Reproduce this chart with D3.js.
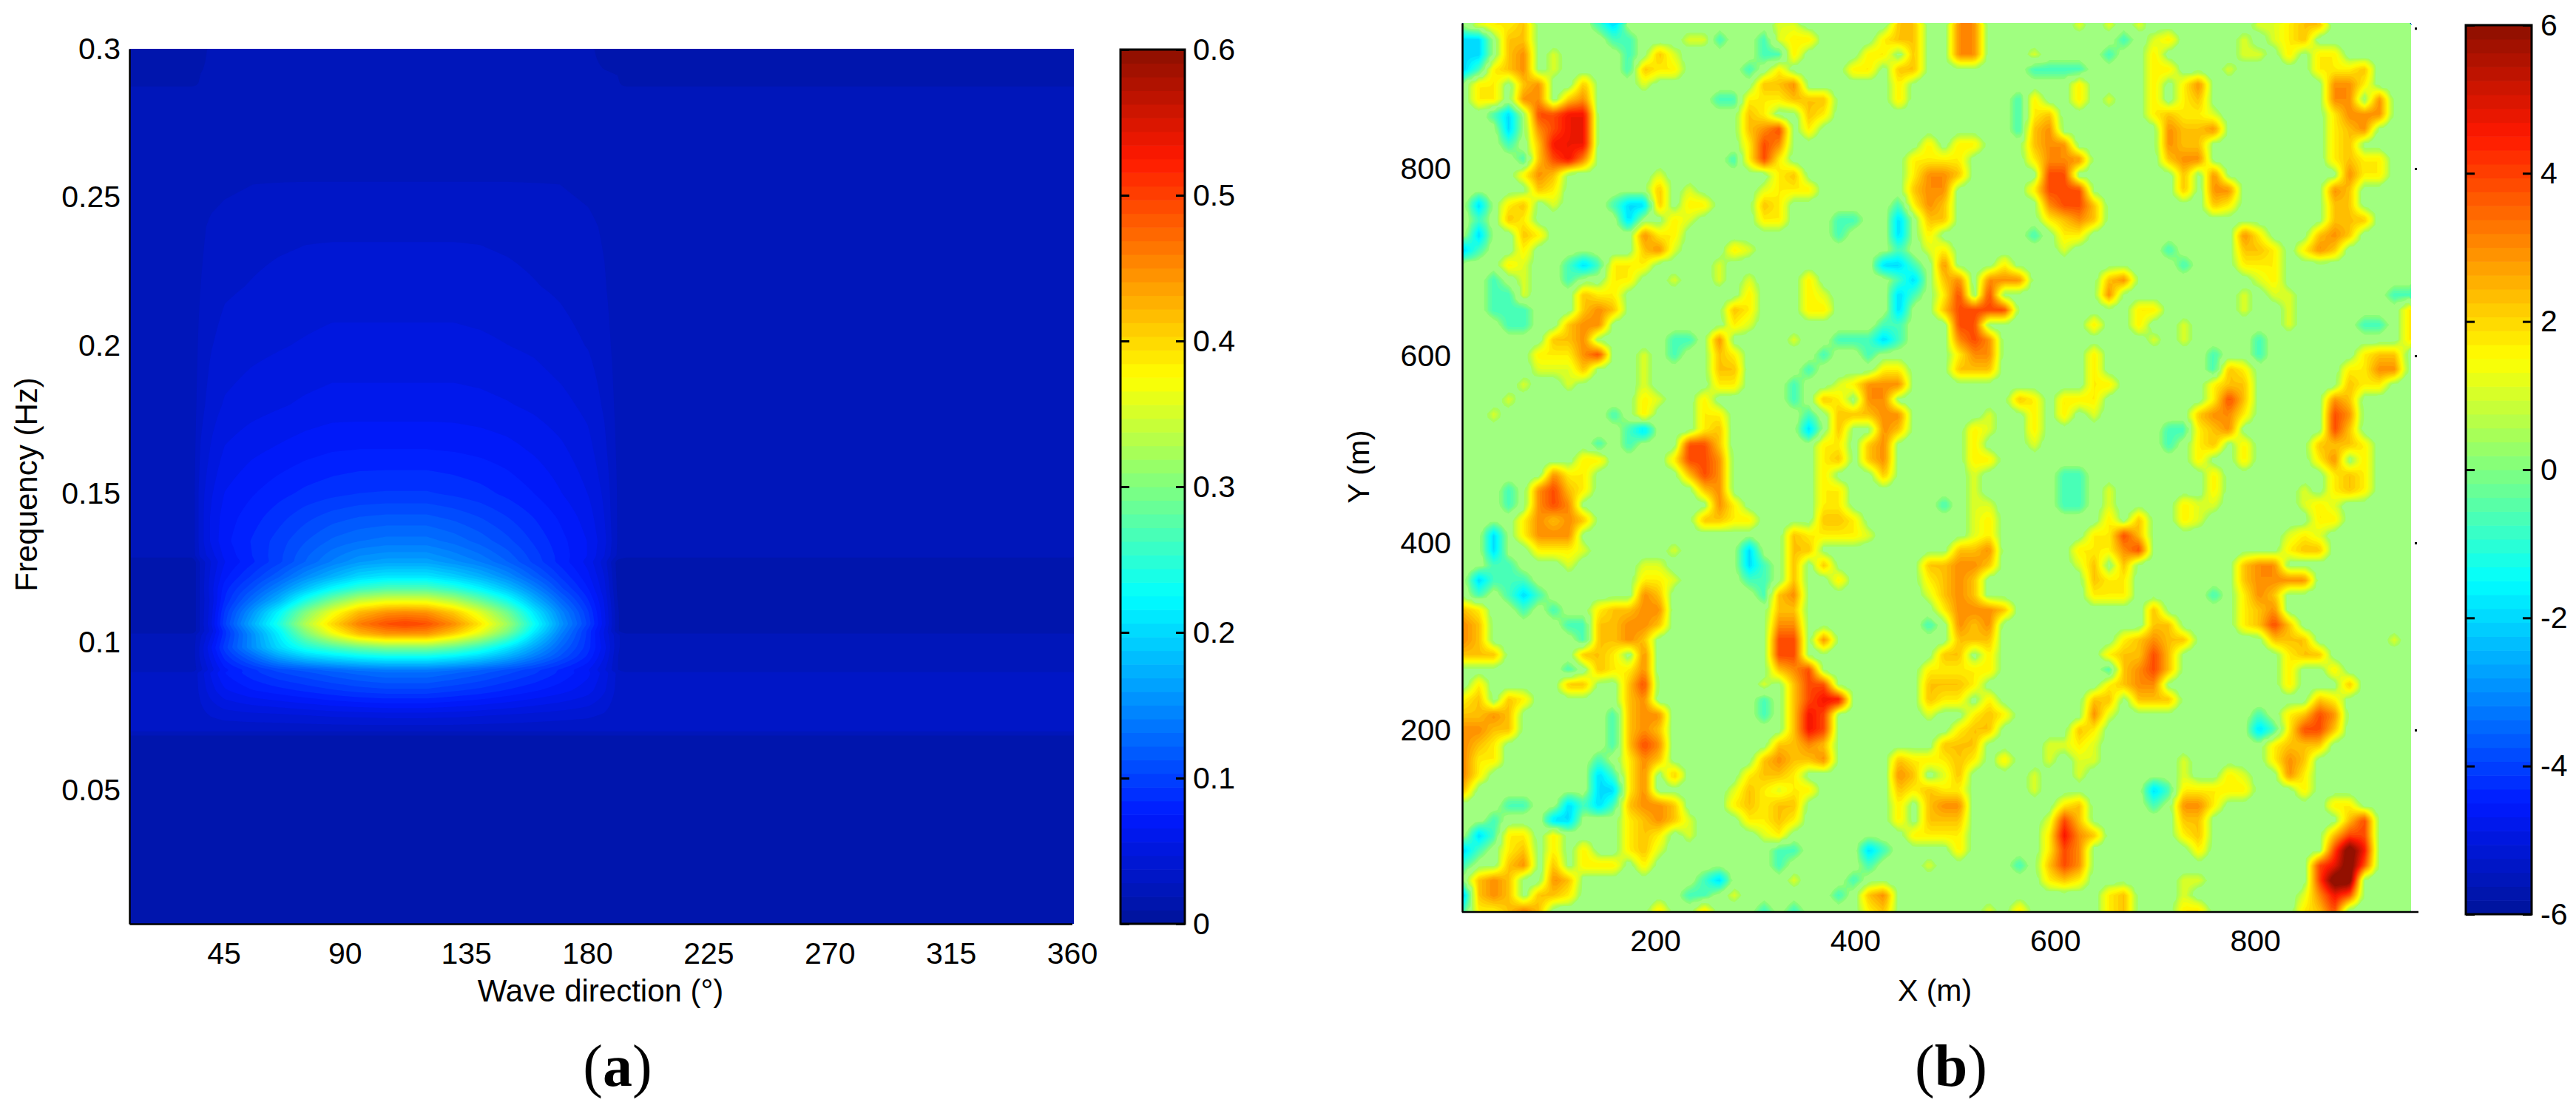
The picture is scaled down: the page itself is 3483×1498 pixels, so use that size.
<!DOCTYPE html>
<html>
<head>
<meta charset="utf-8">
<script src="https://cdn.jsdelivr.net/npm/d3@7"></script>
<style>
  body { margin: 0; background: #fff; }
  text { font-family: "Liberation Sans", Arial, sans-serif; fill: #000; }
</style>
</head>
<body>
<svg id="chart" width="3483" height="1498"></svg>
<script>
// panel (a): spectrum, rows follow freqs, columns follow dirs
const dirs = [10, 33, 36, 40, 45, 55, 65, 75, 85, 95, 105, 112, 120, 130, 140, 150, 160, 170, 180, 186, 191, 194, 360];
const freqs = [.005, .067, .07, .075, .0835, .0895, .0905, .095, .098, .1025, .1035, .106, .11, .114, .118, .122, .127, .129, .134, .142, .15, .165, .18, .2, .22, .24, .2545, .256, .287, .289, .3];
const spectrum = [
  [.01,.01,.01,.01,.01,.01,.01,.01,.01,.01,.01,.01,.01,.01,.01,.01,.01,.01,.01,.01,.01,.01,.01],
  [.01,.01,.01,.01,.01,.01,.01,.01,.01,.01,.01,.01,.01,.01,.01,.01,.01,.01,.01,.01,.01,.01,.01],
  [.03,.03,.03,.03,.03,.03,.03,.03,.03,.03,.03,.03,.03,.03,.03,.03,.03,.03,.03,.03,.03,.03,.03],
  [.03,.03,.034,.038,.041,.043,.044,.046,.048,.049,.05,.05,.05,.049,.047,.045,.043,.041,.039,.036,.031,.03,.03],
  [.03,.03,.04,.052,.064,.074,.08,.086,.092,.097,.1,.1,.1,.095,.09,.083,.076,.069,.06,.048,.034,.03,.03],
  [.03,.03,.042,.058,.075,.09,.102,.11,.118,.125,.13,.13,.13,.123,.115,.105,.095,.082,.068,.052,.035,.03,.03],
  [.022,.022,.034,.052,.072,.09,.107,.116,.126,.134,.14,.14,.14,.132,.122,.11,.097,.082,.066,.048,.028,.022,.022],
  [.022,.022,.04,.06,.088,.125,.165,.193,.209,.222,.23,.23,.23,.218,.199,.172,.14,.11,.082,.056,.028,.022,.022],
  [.022,.022,.04,.065,.098,.15,.2,.239,.264,.286,.3,.3,.3,.281,.25,.21,.165,.122,.088,.06,.03,.022,.022],
  [.022,.022,.035,.055,.09,.15,.215,.295,.36,.415,.44,.44,.44,.4,.35,.285,.205,.14,.09,.055,.03,.022,.022],
  [.01,.01,.03,.05,.09,.155,.22,.305,.375,.43,.455,.46,.455,.42,.365,.3,.215,.145,.09,.055,.02,.01,.01],
  [.01,.01,.03,.055,.1,.17,.24,.33,.4,.46,.49,.5,.49,.45,.39,.32,.23,.155,.1,.06,.02,.01,.01],
  [.01,.01,.03,.052,.095,.155,.22,.3,.365,.42,.445,.45,.445,.41,.355,.29,.21,.145,.095,.058,.02,.01,.01],
  [.01,.01,.03,.05,.085,.13,.175,.24,.295,.34,.358,.36,.358,.33,.285,.235,.175,.125,.085,.055,.018,.01,.01],
  [.01,.01,.03,.052,.08,.11,.145,.185,.225,.255,.27,.27,.27,.25,.22,.185,.145,.105,.075,.05,.016,.01,.01],
  [.01,.01,.03,.05,.072,.095,.12,.15,.175,.2,.21,.21,.21,.195,.175,.15,.12,.092,.068,.047,.015,.01,.01],
  [.01,.01,.03,.047,.065,.082,.1,.122,.142,.158,.165,.165,.165,.153,.14,.122,.1,.08,.062,.042,.014,.01,.01],
  [.022,.022,.04,.052,.068,.084,.1,.12,.137,.15,.155,.155,.155,.145,.133,.117,.098,.08,.065,.047,.026,.022,.022],
  [.022,.022,.042,.058,.072,.085,.098,.112,.124,.131,.135,.135,.135,.128,.118,.106,.092,.078,.065,.05,.027,.022,.022],
  [.022,.022,.042,.058,.07,.08,.09,.1,.108,.113,.115,.115,.115,.11,.103,.094,.084,.073,.061,.047,.027,.022,.022],
  [.022,.022,.042,.055,.066,.074,.081,.087,.091,.094,.095,.095,.095,.092,.088,.082,.075,.066,.056,.045,.027,.022,.022],
  [.022,.022,.038,.048,.057,.063,.067,.071,.074,.075,.075,.075,.075,.074,.072,.069,.064,.058,.05,.04,.026,.022,.022],
  [.022,.022,.034,.042,.048,.052,.055,.058,.06,.06,.06,.06,.06,.06,.059,.057,.054,.05,.044,.036,.025,.022,.022],
  [.022,.022,.031,.037,.041,.044,.046,.048,.05,.05,.05,.05,.05,.05,.049,.047,.045,.041,.037,.032,.024,.022,.022],
  [.022,.022,.028,.033,.036,.038,.04,.041,.042,.042,.042,.042,.042,.042,.041,.04,.038,.036,.033,.029,.023,.022,.022],
  [.022,.022,.026,.03,.032,.034,.035,.036,.036,.036,.036,.036,.036,.036,.036,.035,.034,.032,.03,.027,.023,.022,.022],
  [.022,.022,.022,.024,.026,.028,.03,.032,.032,.032,.032,.032,.032,.032,.032,.032,.03,.028,.026,.024,.022,.022,.022],
  [.022,.022,.022,.023,.024,.024,.025,.025,.025,.025,.025,.025,.025,.025,.025,.025,.024,.024,.023,.023,.022,.022,.022],
  [.022,.022,.022,.023,.024,.024,.024,.024,.024,.024,.024,.024,.024,.024,.024,.024,.024,.024,.023,.023,.022,.022,.022],
  [.01,.01,.021,.023,.023,.023,.023,.023,.023,.023,.023,.023,.023,.023,.023,.023,.023,.023,.023,.023,.021,.01,.01],
  [.01,.01,.012,.023,.023,.023,.023,.023,.023,.023,.023,.023,.023,.023,.023,.023,.023,.023,.023,.012,.01,.01,.01]
];
const dirTicks = [45, 90, 135, 180, 225, 270, 315, 360];
const freqTicks = [.05, .1, .15, .2, .25, .3];
const specBarTicks = [0, .1, .2, .3, .4, .5, .6];

// panel (b): elevation read cell by cell, one string per grid row from the top,
// "col:levels" runs, everything not listed is the flat background
const levelValues = {a: -.7, b: -2, 1: 1.1, 2: 1.7, 3: 2.3, 4: 3, 5: 3.9, 6: 4.7, 7: 6.6};
const flatLevel = .3;
const flatColor = "#a0ff80";
const seaCols = 64;
const seaRowsCount = 60;
const seaRows = [
  "1:1223 9:ab 21:11 29:33 33:44 41:1 43:1 45:1 53:11 55:233",
  "0:bb 3:33 10:aa 15:11 17:a 20:a 21:122 28:2 29:33 33:44 44:a 46:12 52:1 54:123",
  "0:bb 3:34 6:1 11:a 13:3 14:1 20:aa 22:2 27:2 28:2 30:3 33:44 38:1 43:a 46:2 52:1 53:1 55:2 57:22",
  "0:ba 2:2 3:34 6:1 11:a 12:32 14:2 19:a 21:2 26:22 29:33 38:aa 40:aa 46:22 51:1 57:2 58:23 59:22 60:3",
  "1:22 4:34 8:3 12:1 20:33 22:4 29:2 41:2 46:2 48:24 58:44 60:2",
  "1:22 4:44 7:34 17:aa 19:2 20:22 22:3 23:3 24:3 29:2 37:a 38:2 41:2 43:1 46:2 48:23 58:44 59:4 61:4",
  "2:a 3:b 5:5566 19:33 20:2 23:33 24:2 37:a 38:23 46:2 47:3 48:2 49:2 50:1 58:2 59:4 60:44",
  "3:b 5:4566 19:3 20:45 23:2 37:a 38:34 39:4 47:43 49:34 58:2 59:3 60:4",
  "3:a 5:3666 19:2 20:56 21:4 31:2 33:22 38:34 39:4 40:4 47:44 48:3 49:3 58:2 59:3",
  "4:a 5:3564 18:a 19:2 20:54 21:2 30:2 31:22 33:2 38:2 39:4 40:44 47:3 48:4 49:4 58:2 59:3 60:2 61:2",
  "4:2 5:44 6:3 13:1 21:2 22:3 30:2 31:44 32:4 33:3 39:55 40:5 48:3 50:4 59:44 60:2 61:2",
  "5:3 6:2 13:3 15:1 20:1 21:2 22:2 23:2 30:3 31:44 32:4 38:2 39:5 40:55 48:3 50:44 58:4 59:3",
  "1:b 3:23 6:1 10:a 11:bb 13:3 15:2 16:2 20:3 21:2 29:a 30:2 31:44 32:3 39:4 40:5 41:55 42:3 50:33 51:2 58:3 59:3",
  "1:a 3:33 4:2 11:b 14:2 15:1 20:2 21:2 25:aa 29:b 31:33 39:2 40:3 41:4 42:3 58:3 59:33",
  "1:b 4:3 5:2 12:4 13:2 14:2 25:a 29:b 31:2 38:a 40:2 41:2 52:4 53:2 57:3 58:4 59:3",
  "0:b 1:a 4:2 12:3 13:44 14:1 18:2 19:1 29:a 31:1 32:2 40:1 47:a 52:3 53:3 54:2 56:2 57:4 58:3",
  "3:2 4:1 7:aa 8:b 9:a 10:2 11:22 17:1 28:bb 29:b 30:a 32:4 36:2 48:a 52:2 53:22 54:2",
  "2:a 4:1 7:a 10:2 11:2 14:1 17:1 19:1 23:2 29:a 30:b 32:3 33:4 35:4 36:44 43:34 53:1 54:2",
  "2:aaa 4:1 8:3 9:2 10:2 19:2 23:2 24:1 29:b 30:a 32:2 33:5 35:5 43:4 52:1 54:1 55:1 62:aa",
  "2:aaa 8:3 9:4 10:3 18:34 19:2 23:22 29:b 32:3 33:55 35:55 45:22 52:1 55:1 63:2",
  "3:aa 7:3 8:44 18:2 19:1 28:a 29:a 33:5 34:5 42:2 45:2 48:1 55:1 60:a 61:a 63:22",
  "6:3 7:3 8:4 14:aa 15:a 17:4 22:1 25:a 26:a 27:a 28:ba 33:4 34:55 35:4 46:1 48:1 53:a 63:2",
  "5:2 6:2 7:2 8:45 12:1 14:a 17:3 18:2 24:a 27:a 33:2 34:4 35:4 42:2 50:a 53:a 60:2 61:33",
  "5:1 6:1 7:1 8:3 12:1 17:3 18:3 23:a 28:2 29:2 33:3 34:3 35:3 42:2 50:a 51:3 52:2 59:2 60:2 61:44",
  "4:1 7:1 12:1 17:2 18:2 22:a 25:1 26:2 27:44 28:44 42:22 50:2 51:3 52:3 59:33 60:2 61:2",
  "3:1 12:2 13:1 16:2 22:a 24:33 25:2 27:4 28:4 37:3 38:2 40:22 42:2 50:2 51:5 52:3 58:44 59:3",
  "2:1 10:a 12:2 16:2 17:2 23:a 25:3 26:3 27:3 28:44 29:4 35:1 38:2 40:2 42:1 49:3 50:4 51:4 52:2 58:5 59:4",
  "11:a 12:b 16:2 17:3 23:b 25:3 28:4 29:3 34:2 35:1 38:2 47:ab 48:a 49:2 50:3 51:4 58:55 59:3",
  "9:a 11:a 15:5 16:5 17:3 24:2 25:2 27:3 28:4 34:2 38:1 47:a 49:2 50:3 52:2 57:3 58:3 59:3 60:2",
  "8:2 9:2 14:2 15:5 16:5 17:4 24:2 25:3 27:3 28:4 34:2 35:2 49:2 52:2 57:2 58:4 60:2",
  "6:4 7:2 8:2 15:3 16:5 17:4 24:2 28:3 34:1 40:a 41:a 50:2 58:2 59:3 60:2",
  "3:a 5:4 6:56 7:3 8:2 16:3 17:4 24:2 25:2 34:1 40:aa 41:a 43:1 50:2 56:1 58:2 59:3 60:2",
  "3:a 5:4 6:55 7:4 17:44 18:2 24:22 32:a 34:1 35:1 40:a 41:a 43:1 48:2 49:1 50:1 56:1 57:2 58:1",
  "4:2 5:4 6:3 7:4 8:3 16:3 17:3 18:2 19:2 24:3 25:3 26:2 34:1 35:2 43:2 45:3 48:2 49:1 57:2 58:2",
  "2:b 4:2 5:4 6:4 7:4 22:3 23:2 24:2 25:2 26:2 27:1 34:1 35:2 42:2 43:2 44:5 45:3 55:1 56:2 57:1",
  "2:b 5:2 6:2 7:2 8:1 14:1 19:b 22:3 23:3 33:3 34:3 35:4 41:2 42:2 43:2 44:4 45:5 55:2 56:3 57:3",
  "2:a 3:a 7:1 12:1 13:1 19:b 20:a 22:3 24:3 31:3 32:3 33:4 34:4 35:3 41:1 42:3 44:3 52:3 53:44",
  "1:b 2:a 3:aa 12:2 13:2 14:1 19:a 20:a 22:3 25:2 31:2 32:3 33:4 34:3 42:3 43:2 44:2 52:3 53:44 55:44",
  "1:a 3:a 4:b 5:a 12:4 13:3 20:a 21:3 22:4 31:1 32:3 33:4 34:3 42:2 43:2 44:2 50:a 52:2 53:44 54:3",
  "0:3 1:2 4:a 6:a 9:2 10:3 11:3 12:4 13:4 21:3 22:3 32:2 33:44 34:4 35:4 36:3 46:3 52:2 53:3 54:4",
  "0:4 1:3 7:a 8:a 9:3 10:33 11:4 12:4 13:3 21:4 22:4 31:a 33:4 34:3 35:4 46:33 52:2 53:3 54:5 55:3",
  "0:4 1:3 8:a 9:3 10:3 11:44 12:3 21:5 22:5 24:4 33:3 34:3 35:3 44:2 45:3 46:44 47:3 48:3 54:3 55:3 56:3 62:1",
  "0:3 1:33 2:3 8:3 9:33 10:2 12:4 21:55 32:3 33:3 35:2 43:2 44:3 45:3 46:54 47:3 55:2 56:3 57:3",
  "7:a 9:3 10:2 11:2 12:4 21:3 22:4 23:5 31:2 32:2 33:2 34:2 35:2 43:a 44:3 45:4 46:5 47:3 55:2 58:2",
  "1:2 7:3 8:3 11:3 12:5 20:1 22:3 23:55 24:5 31:3 32:3 33:3 34:2 43:2 44:3 45:4 46:4 55:2 59:3",
  "0:2 1:3 3:3 4:2 11:3 12:4 20:a 22:3 23:566 31:3 32:2 33:2 35:2 42:3 43:3 45:3 46:3 47:3 57:3 58:2",
  "0:3 1:3 2:4 3:3 10:a 11:3 12:4 13:4 20:a 22:3 23:66 24:5 31:1 34:2 35:3 36:2 42:4 43:1 53:a 55:2 56:3 57:5 58:4",
  "0:4 1:4 2:3 3:3 10:a 11:3 12:4 13:3 22:3 23:6 24:5 33:2 34:3 35:3 41:3 42:2 53:b 54:a 55:2 56:5 57:5 58:3",
  "0:4 1:3 2:2 10:a 11:3 12:5 13:4 21:3 22:3 23:4 24:3 32:3 33:3 34:3 39:1 40:1 41:2 42:1 54:2 55:3 56:3 57:3",
  "0:4 1:2 2:2 9:a 11:2 12:4 13:3 20:3 21:4 22:3 23:3 24:4 29:3 30:2 31:2 32:2 33:3 34:2 36:2 39:1 41:1 42:1 48:1 54:2 55:4 56:3",
  "0:4 1:2 9:b 10:a 11:2 12:4 14:3 19:2 20:3 21:3 22:2 29:4 30:3 32:1 33:3 38:1 41:1 48:1 51:2 52:1 55:4 56:2",
  "0:3 9:b 10:b 11:2 12:4 18:1 19:3 20:2 21:1 22:2 23:2 29:3 30:2 31:3 32:2 33:2 38:1 46:b 47:a 48:2 49:2 50:2 51:2 52:2 56:2",
  "3:a 4:a 7:b 8:a 9:b 10:a 11:3 12:4 13:4 14:3 18:2 19:3 20:2 21:3 22:3 29:2 31:3 32:4 33:4 40:2 41:3 46:a 48:4 49:4 50:2 58:2 59:2",
  "2:a 6:b 7:b 11:2 12:3 13:4 14:3 15:1 19:2 20:2 21:3 22:2 29:2 31:3 32:3 33:3 39:1 40:5 41:3 48:3 49:3 59:3 60:5",
  "1:b 2:a 3:2 4:2 6:2 11:2 12:3 13:2 15:1 20:1 21:2 30:2 31:2 32:2 33:2 39:2 40:6 41:4 42:3 48:2 49:3 58:3 59:5 60:5",
  "0:b 1:a 3:2 4:3 6:2 8:2 11:2 12:3 13:1 21:a 22:a 27:b 28:a 33:2 39:2 40:55 41:4 49:2 58:5 59:7 60:6",
  "0:a 3:3 4:4 6:3 8:2 9:2 10:2 12:2 21:a 27:a 31:1 37:a 39:3 40:5 41:4 57:5 58:6 59:7 60:5",
  "1:3 2:4 3:3 6:4 7:3 16:a 17:b 22:1 26:a 39:2 40:3 41:2 48:1 49:1 57:5 58:7 59:7",
  "0:b 1:3 2:4 3:3 5:3 6:3 7:2 15:a 16:a 18:1 25:a 27:3 28:4 43:2 44:3 48:1 56:1 57:4 58:6 59:5",
  "0:a 1:2 2:2 3:3 4:4 5:3 13:2 16:2 20:a 22:a 27:2 28:3 35:1 37:2 43:2 44:3 48:2 49:2 56:2 57:3 58:5"
];
const xTicks = [200, 400, 600, 800];
const yTicks = [200, 400, 600, 800];
const edgeDots = [200, 400, 600, 800, 950];
const seaBarTicks = [-6, -4, -2, 0, 2, 4, 6];

const tickFont = 41;
const bands = 64;

// jet, with the slightly lifted dark ends of the printed figure
const jet = d3.scaleLinear()
  .domain([0, .125, .375, .625, .875, 1])
  .range(["#00149a", "#0019ff", "#00ffff", "#ffff00", "#ff1900", "#8c0f00"])
  .clamp(true);

const svg = d3.select("#chart");

// stacked filled bands, same idea as a contourf with 64 levels
function drawField(g, values, nx, ny, box, lo, hi, flat) {
  const edges = d3.range(1, bands).map(k => lo + (hi - lo) * k / bands);
  const gx = d3.scaleLinear().domain([0, nx]).range([box.x0, box.x1]);
  const gy = d3.scaleLinear().domain([0, ny]).range([box.y0, box.y1]);
  const path = d3.geoPath(d3.geoTransform({
    point(x, y) { this.stream.point(gx(x), gy(y)); }
  }));
  const shapes = d3.contours().size([nx, ny]).thresholds(edges)(values);
  const flatBand = flat ? Math.floor((flat.value - lo) / (hi - lo) * bands) : -1;
  g.append("rect")
    .attr("x", box.x0).attr("y", box.y0)
    .attr("width", box.x1 - box.x0).attr("height", box.y1 - box.y0)
    .attr("fill", jet(.5 / bands));
  g.selectAll("path.band")
    .data(shapes)
    .join("path")
    .attr("class", "band")
    .attr("d", path)
    .attr("fill", (d, i) => i + 1 === flatBand ? flat.color : jet((i + 1.5) / bands));
}

function drawColorbar(box, lo, hi, ticks, pad) {
  const y = d3.scaleLinear().domain([lo, hi]).range([box.y1, box.y0]);
  const g = svg.append("g");
  g.selectAll("rect.step")
    .data(d3.range(bands))
    .join("rect")
    .attr("class", "step")
    .attr("x", box.x0)
    .attr("width", box.x1 - box.x0)
    .attr("y", k => y(lo + (hi - lo) * (k + 1) / bands))
    .attr("height", (box.y1 - box.y0) / bands + .6)
    .attr("fill", k => jet((k + .5) / bands));
  g.append("rect")
    .attr("x", box.x0).attr("y", box.y0)
    .attr("width", box.x1 - box.x0).attr("height", box.y1 - box.y0)
    .attr("fill", "none").attr("stroke", "#000").attr("stroke-width", 3);
  const right = g.append("g").attr("transform", `translate(${box.x1},0)`)
    .call(d3.axisRight(y).tickValues(ticks).tickSize(-12).tickPadding(pad).tickFormat(d => String(d)));
  const left = g.append("g").attr("transform", `translate(${box.x0},0)`)
    .call(d3.axisLeft(y).tickValues(ticks).tickSize(-12).tickFormat(""));
  [right, left].forEach(a => {
    a.select(".domain").remove();
    a.selectAll("line").attr("stroke-width", 3);
    a.selectAll("text").attr("font-size", tickFont).attr("font-family", "Liberation Sans");
  });
}

function styleAxis(a) {
  a.selectAll(".domain").attr("stroke-width", 2.5);
  a.selectAll("text").attr("font-size", tickFont).attr("font-family", "Liberation Sans");
}

function caption(x, letter) {
  const t = svg.append("text").attr("x", x).attr("y", 1468).attr("text-anchor", "middle")
    .attr("font-size", 80).style("font-family", "Liberation Serif");
  t.append("tspan").text("(");
  t.append("tspan").attr("font-weight", "bold").text(letter);
  t.append("tspan").text(")");
}

// ---- panel (a)
const boxA = {x0: 175, x1: 1452, y0: 66, y1: 1249};
const xA = d3.scaleLinear().domain([10, 360]).range([boxA.x0, 1449.5]);
const yA = d3.scaleLinear().domain([.005, .3]).range([boxA.y1, boxA.y0]);

const nxA = 510, nyA = 590;
const dirIndex = d3.scaleLinear().domain(dirs).range(d3.range(dirs.length)).clamp(true);
const freqIndex = d3.scaleLinear().domain(freqs).range(d3.range(freqs.length)).clamp(true);
const dirAt = d3.scaleLinear().domain([0, nxA - 1]).range([10, 360]);
const freqAt = d3.scaleLinear().domain([0, nyA - 1]).range([.3, .005]);
const specGrid = new Float64Array(nxA * nyA);
for (let j = 0; j < nyA; j++) {
  const fy = freqIndex(freqAt(j));
  const r0 = Math.min(Math.floor(fy), freqs.length - 2);
  const dy = fy - r0;
  for (let i = 0; i < nxA; i++) {
    const fx = dirIndex(dirAt(i));
    const c0 = Math.min(Math.floor(fx), dirs.length - 2);
    const dx = fx - c0;
    specGrid[j * nxA + i] =
      (spectrum[r0][c0] * (1 - dx) + spectrum[r0][c0 + 1] * dx) * (1 - dy) +
      (spectrum[r0 + 1][c0] * (1 - dx) + spectrum[r0 + 1][c0 + 1] * dx) * dy;
  }
}
drawField(svg.append("g"), specGrid, nxA, nyA, boxA, 0, .6);

const axisA = svg.append("g");
axisA.append("g").attr("transform", `translate(0,${boxA.y1})`)
  .call(d3.axisBottom(xA).tickValues(dirTicks).tickSize(0).tickPadding(25).tickFormat(d => String(d)))
  .call(styleAxis);
axisA.append("g").attr("transform", `translate(${boxA.x0},0)`)
  .call(d3.axisLeft(yA).tickValues(freqTicks).tickSize(0).tickPadding(12).tickFormat(d => String(d)))
  .call(styleAxis);
svg.append("text").attr("x", 812).attr("y", 1354).attr("text-anchor", "middle")
  .attr("font-size", 42).text("Wave direction (°)");
svg.append("text").attr("transform", "translate(50,655) rotate(-90)").attr("text-anchor", "middle")
  .attr("font-size", 42).text("Frequency (Hz)");
drawColorbar({x0: 1515, x1: 1602, y0: 67, y1: 1249}, 0, .6, specBarTicks, 11);
caption(835, "a");

// ---- panel (b)
const boxB = {x0: 1977, x1: 3260, y0: 31, y1: 1233};
const xB = d3.scaleLinear().domain([6.9, 956]).range([boxB.x0, boxB.x1]);
const yB = d3.scaleLinear().domain([5.5, 955.7]).range([boxB.y1, boxB.y0]);

const coarse = new Float64Array(seaCols * seaRowsCount).fill(flatLevel);
seaRows.forEach((row, r) => {
  row.split(" ").forEach(run => {
    const [start, chars] = run.split(":");
    [...chars].forEach((ch, k) => {
      const col = +start + k;
      if (col < seaCols) coarse[r * seaCols + col] = levelValues[ch];
    });
  });
});
// the figure looks clipped around zero: faint values stay on the flat colour, edges are abrupt
const clipFlat = d3.scaleLinear()
  .domain([-6, -.4, -.05, .3, .7, 1, 8])
  .range([-6, -.4, .3, .3, .3, 1, 8]);
const up = 4;
const nxB = seaCols * up, nyB = seaRowsCount * up;
const colAt = d3.scaleLinear().domain([0, nxB - 1]).range([0, seaCols - 1]);
const rowAt = d3.scaleLinear().domain([0, nyB - 1]).range([0, seaRowsCount - 1]);
const seaGrid = new Float64Array(nxB * nyB);
for (let j = 0; j < nyB; j++) {
  const fy = rowAt(j), r0 = Math.min(Math.floor(fy), seaRowsCount - 2), dy = fy - r0;
  for (let i = 0; i < nxB; i++) {
    const fx = colAt(i), c0 = Math.min(Math.floor(fx), seaCols - 2), dx = fx - c0;
    seaGrid[j * nxB + i] = clipFlat(
      (coarse[r0 * seaCols + c0] * (1 - dx) + coarse[r0 * seaCols + c0 + 1] * dx) * (1 - dy) +
      (coarse[(r0 + 1) * seaCols + c0] * (1 - dx) + coarse[(r0 + 1) * seaCols + c0 + 1] * dx) * dy);
  }
}
drawField(svg.append("g"), seaGrid, nxB, nyB, boxB, -6, 6, {value: flatLevel, color: flatColor});

const axisB = svg.append("g");
axisB.append("g").attr("transform", `translate(0,${boxB.y1})`)
  .call(d3.axisBottom(xB).tickValues(xTicks).tickSize(0).tickPadding(24).tickFormat(d => String(d)))
  .call(styleAxis);
axisB.select(".domain").attr("d", `M${boxB.x0},0H3270`);
axisB.append("g").attr("transform", `translate(${boxB.x0},0)`)
  .call(d3.axisLeft(yB).tickValues(yTicks).tickSize(0).tickPadding(15).tickFormat(d => String(d)))
  .call(styleAxis);
svg.append("g").selectAll("rect").data(edgeDots).join("rect")
  .attr("x", 3265).attr("y", d => yB(d) - 1).attr("width", 3).attr("height", 3).attr("fill", "#000");
svg.append("text").attr("x", 2616).attr("y", 1353).attr("text-anchor", "middle")
  .attr("font-size", 41).text("X (m)");
svg.append("text").attr("transform", "translate(1851,631) rotate(-90)").attr("text-anchor", "middle")
  .attr("font-size", 41).text("Y (m)");
drawColorbar({x0: 3334, x1: 3423, y0: 34, y1: 1236}, -6, 6, seaBarTicks, 12);
caption(2638, "b");
</script>
</body>
</html>
